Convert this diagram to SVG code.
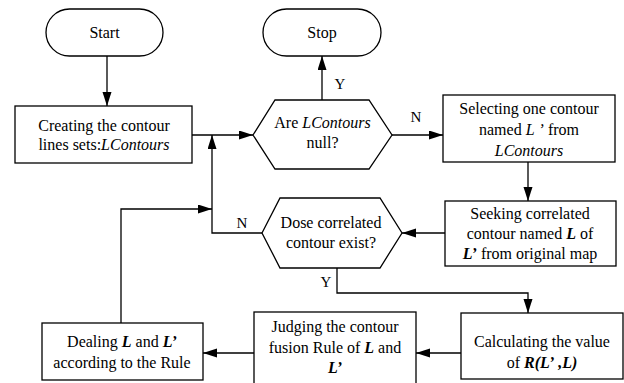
<svg xmlns="http://www.w3.org/2000/svg" width="624" height="383" viewBox="0 0 624 383">
<style>
.s{fill:#fff;stroke:#000;stroke-width:1.3}
.t{font-family:"Liberation Serif","Times New Roman",serif;font-size:16px;fill:#000;text-anchor:middle}
.l{font-family:"Liberation Serif","Times New Roman",serif;font-size:15px;fill:#000;text-anchor:middle}
.c{fill:none;stroke:#000;stroke-width:1.3}
.i{font-style:italic}
.b{font-style:italic;font-weight:bold}
</style>
<defs>
<marker id="a" markerUnits="userSpaceOnUse" markerWidth="14" markerHeight="10" refX="14" refY="4.5" orient="auto">
<path d="M0,0 L14,4.5 L0,9 z" fill="#000"/>
</marker>
</defs>
<rect width="624" height="383" fill="#fff"/>
<g id="connectors" class="c" marker-end="url(#a)">
<path d="M107,56 V106"/>
<path d="M192,135 H253"/>
<path d="M262,233 H212 V135"/>
<path d="M121,323 V209 H212"/>
<path d="M322,100 V56"/>
<path d="M392,135 H443"/>
<path d="M528,162 V201"/>
<path d="M445,233 H402"/>
<path d="M337,268 V293 H528 V313"/>
<path d="M461,353 H416"/>
<path d="M254,353 H203"/>
</g>
<g id="labels">
<text class="l" x="340" y="89">Y</text>
<text class="l" x="416" y="122">N</text>
<text class="l" x="242" y="228">N</text>
<text class="l" x="326" y="287">Y</text>
</g>
<g id="start">
<rect class="s" x="46" y="9" width="117" height="47" rx="23.5"/>
<text class="t" x="104.5" y="38">Start</text>
</g>
<g id="stop">
<rect class="s" x="263" y="9" width="118" height="47" rx="23.5"/>
<text class="t" x="322" y="38">Stop</text>
</g>
<g id="create">
<rect class="s" x="15" y="106" width="177" height="57"/>
<text class="t" x="104" y="131">Creating the contour</text>
<text class="t" x="104" y="150">lines sets:<tspan class="i">LContours</tspan></text>
</g>
<g id="null">
<polygon class="s" points="253,135 275,100 369,100 392,135 369,169 275,169"/>
<text class="t" x="322.5" y="128">Are <tspan class="i">LContours</tspan></text>
<text class="t" x="322.5" y="148">null?</text>
</g>
<g id="select">
<rect class="s" x="443" y="95" width="172" height="67"/>
<text class="t" x="529" y="114">Selecting one contour</text>
<text class="t" x="529" y="135">named <tspan class="i">L</tspan> <tspan class="i">’</tspan>  from</text>
<text class="t i" x="529" y="156">LContours</text>
</g>
<g id="seek">
<rect class="s" x="445" y="201" width="171" height="65"/>
<text class="t" x="530" y="219">Seeking correlated</text>
<text class="t" x="530" y="239">contour named <tspan class="b">L</tspan> of</text>
<text class="t" x="530" y="259"><tspan class="b">L’</tspan>  from original map</text>
</g>
<g id="exist">
<polygon class="s" points="262,233 280,198 380,198 402,233 380,268 280,268"/>
<text class="t" x="331" y="228">Dose correlated</text>
<text class="t" x="331" y="248">contour exist?</text>
</g>
<g id="calc">
<rect class="s" x="461" y="313" width="162" height="66"/>
<text class="t" x="542" y="347">Calculating the value</text>
<text class="t" x="542" y="368">of <tspan class="b">R(L’</tspan> <tspan class="b">,L)</tspan></text>
</g>
<g id="judge">
<rect class="s" x="254" y="312" width="162" height="80"/>
<text class="t" x="335" y="332">Judging the contour</text>
<text class="t" x="335" y="353">fusion Rule of <tspan class="b">L</tspan> and</text>
<text class="t b" x="335" y="373">L’</text>
</g>
<g id="deal">
<rect class="s" x="42" y="323" width="161" height="57"/>
<text class="t" x="122" y="347">Dealing <tspan class="b">L</tspan> and <tspan class="b">L’</tspan></text>
<text class="t" x="122" y="368">according to the Rule</text>
</g>
</svg>
